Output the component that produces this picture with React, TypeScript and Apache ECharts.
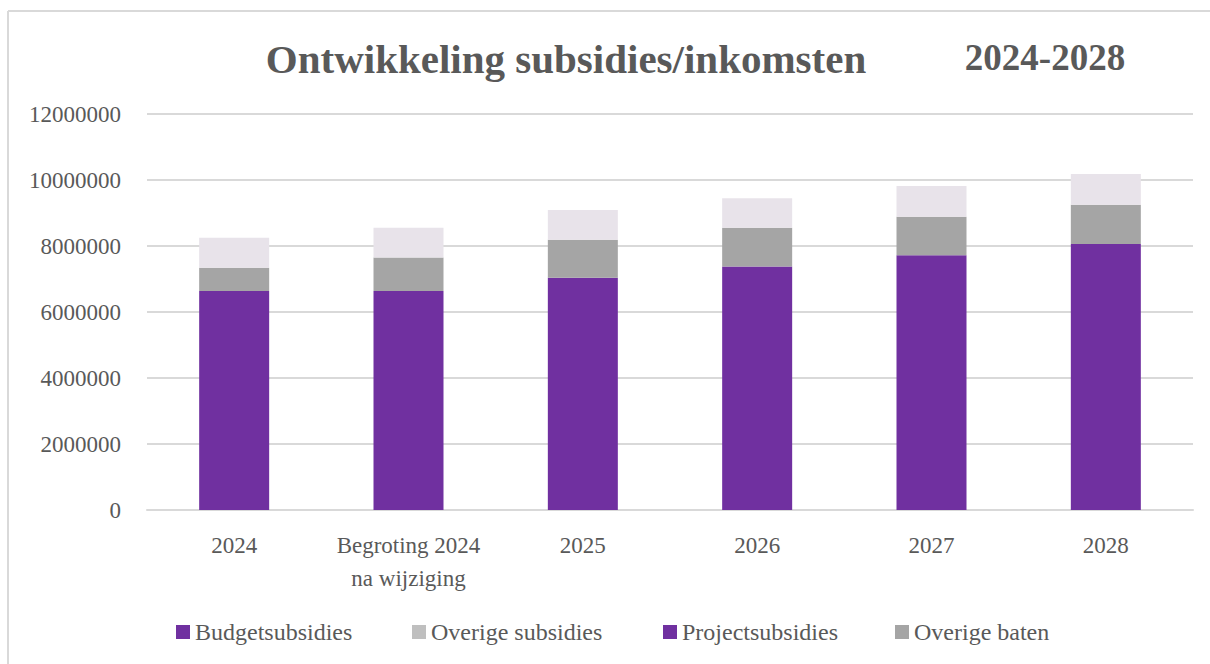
import React, { useEffect, useRef } from "react";
import * as echarts from "echarts";

const categories = ["2024", "Begroting 2024\nna wijziging", "2025", "2026", "2027", "2028"];
const budgetsubsidies = [6640000, 6640000, 7040000, 7380000, 7720000, 8060000];
const overigeSubsidies = [0, 0, 0, 0, 0, 0];
const projectsubsidies = [0, 0, 0, 0, 0, 0];
const overigeBaten = [700000, 1010000, 1150000, 1170000, 1170000, 1190000];
const overig = [910000, 900000, 900000, 900000, 930000, 930000];
const yTicks = { min: 0, max: 12000000, interval: 2000000 };

const FONT = "'Liberation Serif', serif";
const TEXT = "#595959";

export default function App() {
  const ref = useRef<HTMLDivElement>(null);
  useEffect(() => {
    if (!ref.current) return;
    const chart = echarts.init(ref.current, undefined, { renderer: "svg" });
    const legendText = { fontFamily: FONT, fontSize: 24, color: TEXT };
    const mkLegend = (name: string, left: number, color: string) => ({
      data: [{ name, itemStyle: { color } }],
      left,
      top: 620,
      itemWidth: 14,
      itemHeight: 14,
      itemGap: 6,
      padding: 0,
      icon: "rect",
      textStyle: legendText,
      selectedMode: false,
    });
    chart.setOption({
      animation: false,
      backgroundColor: "#ffffff",
      title: [
        {
          text: "Ontwikkeling subsidies/inkomsten",
          left: 561,
          top: 33,
          textAlign: "center",
          textStyle: { fontFamily: FONT, fontWeight: "bold", fontSize: 41, color: TEXT },
        },
        {
          text: "2024-2028",
          left: 1040,
          top: 34,
          textAlign: "center",
          textStyle: { fontFamily: FONT, fontWeight: "bold", fontSize: 37, color: TEXT },
        },
      ],
      graphic: [
        {
          type: "line",
          shape: { x1: 8, y1: 11, x2: 1210, y2: 11 },
          style: { stroke: "#d9d9d9", lineWidth: 2 },
          silent: true,
          z: -10,
        },
        {
          type: "line",
          shape: { x1: 8, y1: 11, x2: 8, y2: 664 },
          style: { stroke: "#d9d9d9", lineWidth: 2 },
          silent: true,
          z: -10,
        },
      ],
      legend: [
        mkLegend("Budgetsubsidies", 176, "#7030A0"),
        mkLegend("Overige subsidies", 412, "#BFBFBF"),
        mkLegend("Projectsubsidies", 663, "#7030A0"),
        mkLegend("Overige baten", 895, "#A5A5A5"),
      ],
      grid: { left: 147, right: 17, top: 114, bottom: 154 },
      xAxis: {
        type: "category",
        data: categories,
        axisLine: { show: true, lineStyle: { color: "#d9d9d9", width: 2 } },
        axisTick: { show: false },
        axisLabel: {
          fontFamily: FONT,
          fontSize: 23,
          color: TEXT,
          margin: 19,
          lineHeight: 33,
          interval: 0,
        },
      },
      yAxis: {
        type: "value",
        min: yTicks.min,
        max: yTicks.max,
        interval: yTicks.interval,
        axisLine: { show: false },
        axisTick: { show: false },
        splitLine: { lineStyle: { color: "#d9d9d9", width: 2 } },
        axisLabel: {
          fontFamily: FONT,
          fontSize: 23,
          color: TEXT,
          margin: 26,
          formatter: (v: number) => String(v),
        },
      },
      series: [
        { name: "Budgetsubsidies", type: "bar", stack: "s", data: budgetsubsidies, barWidth: 70, itemStyle: { color: "#7030A0" } },
        { name: "Overige subsidies", type: "bar", stack: "s", data: overigeSubsidies, itemStyle: { color: "#BFBFBF" } },
        { name: "Projectsubsidies", type: "bar", stack: "s", data: projectsubsidies, itemStyle: { color: "#7030A0" } },
        { name: "Overige baten", type: "bar", stack: "s", data: overigeBaten, itemStyle: { color: "#A5A5A5" } },
        { name: "Overig", type: "bar", stack: "s", data: overig, itemStyle: { color: "#E8E3EA" } },
      ],
    });
    return () => chart.dispose();
  }, []);
  return (
    <div
      ref={ref}
      style={{ position: "fixed", left: 0, top: 0, width: 1210, height: 664 }}
    />
  );
}
